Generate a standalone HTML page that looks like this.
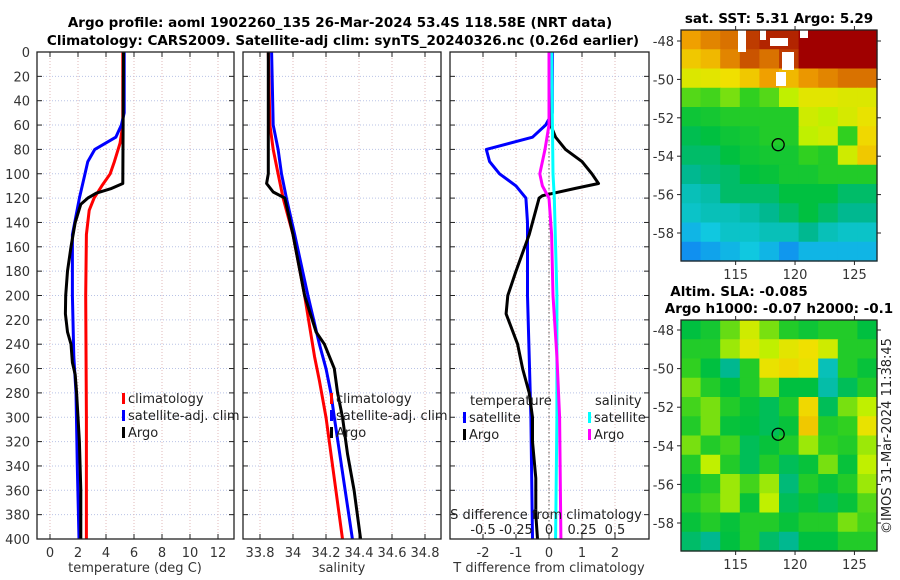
<!DOCTYPE html>
<html><head><meta charset="utf-8"><style>
html,body{margin:0;padding:0;background:#fff;}
svg{display:block;font-family:"DejaVu Sans","Liberation Sans",sans-serif;}
</style></head><body>
<svg id="fig" width="900" height="580" viewBox="0 0 900 580" xmlns="http://www.w3.org/2000/svg">
<g id="g-titles" font-weight="bold" font-size="13.5" text-anchor="middle">
 <text x="340" y="27">Argo profile: aoml 1902260_135 26-Mar-2024 53.4S 118.58E (NRT data)</text>
 <text x="343" y="45">Climatology: CARS2009. Satellite-adj clim: synTS_20240326.nc (0.26d earlier)</text>
 <text x="779" y="23">sat. SST: 5.31 Argo: 5.29</text>
 <text x="739" y="296">Altim. SLA: -0.085</text>
 <text x="779" y="313">Argo h1000: -0.07 h2000: -0.1</text>
</g>
<g id="layer"></g>
<text transform="translate(891,436) rotate(-90)" text-anchor="middle" font-size="13" fill="#222">©IMOS 31-Mar-2024 11:38:45</text>
</svg>
<script>
// ---------- data ----------
const depthTicks=[0,20,40,60,80,100,120,140,160,180,200,220,240,260,280,300,320,340,360,380,400];
const tempTicks=[0,2,4,6,8,10,12];
const salTicks=[33.8,34,34.2,34.4,34.6,34.8];
const salTickLabels=["33.8","34","34.2","34.4","34.6","34.8"];
const dTTicks=[-2,-1,0,1,2];
const dSTicks=[-0.5,-0.25,0,0.25,0.5];
const dSTickLabels=["-0.5","-0.25","0","0.25","0.5"];

const climTP=[0,60,75,90,100,110,120,130,150,200,300,400];
const climT=[5.2,5.2,5.0,4.6,4.3,3.7,3.15,2.8,2.6,2.55,2.6,2.6];
const satTP=[0,50,60,70,80,90,100,120,150,200,250,280,340,400];
const satT=[5.3,5.3,5.1,4.7,3.2,2.7,2.5,2.1,1.6,1.6,1.7,1.86,1.95,2.07];
const argoTP=[0,108,112,116,120,125,140,160,180,200,215,230,240,255,265,280,300,320,360,400];
const argoT=[5.25,5.2,4.4,3.3,2.7,2.2,1.8,1.5,1.25,1.12,1.1,1.25,1.5,1.6,1.8,1.9,2.0,2.1,2.2,2.2];

const climSP=[0,60,80,100,120,150,200,250,270,300,400];
const climS=[33.85,33.86,33.88,33.91,33.94,34.0,34.07,34.13,34.16,34.2,34.3];
const satSP=[0,60,80,100,120,150,200,240,260,280,300,400];
const satS=[33.87,33.88,33.91,33.93,33.96,34.01,34.09,34.16,34.2,34.23,34.25,34.36];
const argoSP=[0,100,108,115,120,150,200,230,240,260,280,300,330,360,400];
const argoS=[33.85,33.85,33.84,33.88,33.95,34.0,34.07,34.14,34.19,34.25,34.27,34.3,34.33,34.37,34.41];

const dTsatP=[0,50,60,70,80,90,100,110,120,140,200,300,400];
const dTsat=[0.1,0.1,-0.1,-0.5,-1.9,-1.8,-1.5,-1.0,-0.7,-0.65,-0.65,-0.55,-0.5];
const dTargoP=[0,60,70,80,90,100,108,112,118,120,130,150,180,200,215,240,260,280,300,320,350,380,400];
const dTargo=[0.05,0.05,0.2,0.5,1.0,1.3,1.5,0.8,-0.2,-0.3,-0.4,-0.6,-1.0,-1.25,-1.3,-0.95,-0.8,-0.6,-0.5,-0.5,-0.4,-0.4,-0.35];
const dSsatP=[0,100,120,200,300,400];
const dSsat=[0.02,0.03,0.04,0.06,0.06,0.05];
const dSargoP=[0,60,80,100,110,120,150,200,250,300,400];
const dSargo=[0.0,0.0,-0.03,-0.07,-0.05,0.0,0.02,0.03,0.06,0.08,0.09];

const sstGrid=[
[0.85,0.88,0.9,0.95,0.97,0.97,1,1,1,1],
[0.8,0.82,0.88,0.93,0.9,0.95,1,1,1,1],
[0.74,0.75,0.77,0.8,0.85,0.82,0.86,0.88,0.9,0.9],
[0.64,0.63,0.66,0.62,0.64,0.7,0.75,0.75,0.74,0.74],
[0.57,0.58,0.6,0.6,0.6,0.6,0.72,0.7,0.73,0.76],
[0.53,0.55,0.57,0.58,0.6,0.6,0.7,0.72,0.62,0.78],
[0.5,0.5,0.55,0.57,0.58,0.58,0.62,0.6,0.72,0.8],
[0.45,0.48,0.5,0.55,0.56,0.58,0.58,0.6,0.6,0.6],
[0.4,0.42,0.5,0.5,0.5,0.55,0.55,0.55,0.5,0.5],
[0.38,0.4,0.4,0.42,0.45,0.5,0.55,0.5,0.45,0.45],
[0.3,0.35,0.38,0.38,0.4,0.4,0.45,0.4,0.38,0.38],
[0.2,0.25,0.3,0.35,0.3,0.22,0.3,0.3,0.3,0.3]];
const slaGrid=[
[0.55,0.58,0.65,0.72,0.66,0.6,0.57,0.6,0.6,0.55],
[0.6,0.6,0.68,0.75,0.7,0.75,0.77,0.72,0.6,0.6],
[0.62,0.55,0.45,0.6,0.76,0.78,0.76,0.4,0.6,0.56],
[0.66,0.6,0.55,0.6,0.66,0.55,0.55,0.42,0.52,0.6],
[0.63,0.66,0.6,0.56,0.52,0.6,0.78,0.52,0.66,0.7],
[0.6,0.66,0.56,0.55,0.52,0.56,0.8,0.6,0.62,0.76],
[0.66,0.6,0.63,0.52,0.56,0.6,0.68,0.62,0.6,0.68],
[0.6,0.7,0.6,0.52,0.6,0.52,0.56,0.66,0.56,0.7],
[0.56,0.6,0.68,0.63,0.68,0.48,0.6,0.56,0.6,0.68],
[0.6,0.63,0.68,0.56,0.7,0.52,0.56,0.52,0.56,0.64],
[0.56,0.6,0.56,0.6,0.6,0.56,0.6,0.6,0.66,0.63],
[0.5,0.45,0.55,0.6,0.5,0.45,0.55,0.55,0.6,0.6]];
const latTicks=[-48,-50,-52,-54,-56,-58];
const lonTicks=[115,120,125];
const argoLon=118.58, argoLat=-53.4;

// ---------- helpers ----------
const NS="http://www.w3.org/2000/svg";
const layer=document.getElementById('layer');
function mk(tag,attrs,parent){const e=document.createElementNS(NS,tag);for(const k in attrs)e.setAttribute(k,attrs[k]);(parent||layer).appendChild(e);return e;}
const yD=p=>52+1.2175*p;
const xT=t=>50+14*t;
const xS=s=>260+165*(s-33.8);
const xDT=d=>549+33*d;
const xDS=d=>549+132*d;

function panel(x0,x1,name,xt,xf,xl){
  const g=mk('g',{});
  
  
  depthTicks.forEach(p=>{
    const l=mk('line',{x1:x0,x2:x1,y1:yD(p),y2:yD(p),stroke:'#b9c3e6','stroke-width':1,'stroke-dasharray':'1,2'},g);
    
    
    mk('line',{x1:x0,x2:x0+5,y1:yD(p),y2:yD(p),stroke:'#222'},g);
    mk('line',{x1:x1-5,x2:x1,y1:yD(p),y2:yD(p),stroke:'#222'},g);
  });
  xt.forEach((v,i)=>{
    const x=xf(v);
    const l=mk('line',{x1:x,x2:x,y1:52,y2:539,stroke:'#e0b8b8','stroke-width':1,'stroke-dasharray':'1,2'},g);
    
    
    mk('line',{x1:x,x2:x,y1:539,y2:534,stroke:'#222'},g);
    mk('line',{x1:x,x2:x,y1:52,y2:57,stroke:'#222'},g);
    const t=mk('text',{x:x,y:557,'text-anchor':'middle','font-size':13,fill:'#333'},g);
    t.textContent=xl?xl[i]:String(v);
    
    
  });
  return g;
}
function line(xs,ps,xf,color,name,w){
  const pts=xs.map((v,i)=>xf(v).toFixed(1)+','+yD(ps[i]).toFixed(1)).join(' ');
  const e=mk('polyline',{points:pts,fill:'none',stroke:color,'stroke-width':w||3,'stroke-linejoin':'round'});
  
  
}
function frame(x0,x1,y0,y1,name){
  const e=mk('rect',{x:x0,y:y0,width:x1-x0,height:y1-y0,fill:'none',stroke:'#222','stroke-width':1.3});
  
  
}
function txt(x,y,s,name,opt){
  const e=mk('text',Object.assign({x:x,y:y,'font-size':13,fill:'#222'},opt||{}));
  e.textContent=s;
  
  
  return e;
}
function legItem(x,y,color,label,name){
  const r=mk('rect',{x:x,y:y-9,width:3,height:11,fill:color});
  
  
  txt(x+6,y+1,label,name);
}

// ---------- panel 1 temperature ----------
panel(37,234,'temperature-panel',tempTicks,xT);
depthTicks.forEach(p=>{txt(30,yD(p)+5,String(p),'y-tick-label',{'text-anchor':'end',fill:'#333'});});
line(climT,climTP,xT,'#ff0000','temp-climatology-line');
line(satT,satTP,xT,'#0000ff','temp-satellite-line');
line(argoT,argoTP,xT,'#000000','temp-argo-line');
frame(37,234,52,539,'temperature-axes-frame');
txt(135,572,'temperature (deg C)','temperature-axis-title',{'text-anchor':'middle',fill:'#333'});
legItem(122,402,'#ff0000','climatology','temp-legend-climatology');
legItem(122,419,'#0000ff','satellite-adj. clim','temp-legend-satellite');
legItem(122,436,'#000000','Argo','temp-legend-argo');

// ---------- panel 2 salinity ----------
panel(243,441,'salinity-panel',salTicks,xS,salTickLabels);
line(climS,climSP,xS,'#ff0000','sal-climatology-line');
line(satS,satSP,xS,'#0000ff','sal-satellite-line');
line(argoS,argoSP,xS,'#000000','sal-argo-line');
frame(243,441,52,539,'salinity-axes-frame');
txt(342,572,'salinity','salinity-axis-title',{'text-anchor':'middle',fill:'#333'});
legItem(330,402,'#ff0000','climatology','sal-legend-climatology');
legItem(330,419,'#0000ff','satellite-adj. clim','sal-legend-satellite');
legItem(330,436,'#000000','Argo','sal-legend-argo');

// ---------- panel 3 differences ----------
panel(450,649,'difference-panel',dTTicks,xDT);
const z=mk('line',{x1:549,x2:549,y1:52,y2:539,stroke:'#555','stroke-dasharray':'1.5,2.5'});


line(dTsat,dTsatP,xDT,'#0000ff','dT-satellite-line');
line(dTargo,dTargoP,xDT,'#000000','dT-argo-line');
line(dSsat,dSsatP,xDS,'#00ffff','dS-satellite-line');
line(dSargo,dSargoP,xDS,'#ff00ff','dS-argo-line');
frame(450,649,52,539,'difference-axes-frame');
txt(549,572,'T difference from climatology','dT-axis-title',{'text-anchor':'middle',fill:'#333'});
txt(546,519,'S difference from climatology','dS-axis-title',{'text-anchor':'middle'});
dSTicks.forEach((v,i)=>{txt(xDS(v),534,dSTickLabels[i],'dS-tick-label',{'text-anchor':'middle'});});
txt(470,405,'temperature','diff-legend-temp-header');
legItem(463,421,'#0000ff','satellite','diff-legend-temp-satellite');
legItem(463,438,'#000000','Argo','diff-legend-temp-argo');
txt(595,405,'salinity','diff-legend-sal-header');
legItem(588,421,'#00ffff','satellite','diff-legend-sal-satellite');
legItem(588,438,'#ff00ff','Argo','diff-legend-sal-argo');

// ---------- maps ----------
const stops=[[0,[16,64,208]],[0.2,[16,144,240]],[0.35,[16,200,224]],[0.45,[0,184,144]],[0.55,[0,192,64]],[0.62,[48,208,32]],[0.7,[192,240,0]],[0.77,[240,224,0]],[0.85,[240,160,0]],[0.92,[208,96,0]],[1,[160,0,0]]];
function cmap(v){for(let i=1;i<stops.length;i++){if(v<=stops[i][0]){const a=stops[i-1],b=stops[i],f=(v-a[0])/(b[0]-a[0]);return 'rgb('+a[1].map((c,k)=>Math.round(c+f*(b[1][k]-c))).join(',')+')';}}return 'rgb(160,0,0)';}
const mx0=681,mx1=877;
const lonX=lon=>mx0+(lon-110.4)*(mx1-mx0)/(126.9-110.4);
function map(grid,y0,y1,name){
  const g=mk('g',{});
  
  
  const rows=grid.length,cols=grid[0].length,cw=(mx1-mx0)/cols,ch=(y1-y0)/rows;
  grid.forEach((row,r)=>row.forEach((v,c)=>{
    const e=mk('rect',{x:(mx0+c*cw).toFixed(2),y:(y0+r*ch).toFixed(2),width:(cw+0.6).toFixed(2),height:(ch+0.6).toFixed(2),fill:cmap(v)},g);
    
    
  }));
  return g;
}
function mapAxes(y0,y1,latY,name,showLon){
  latTicks.forEach(l=>{
    const y=latY(l);
    mk('line',{x1:mx0-4,x2:mx0,y1:y,y2:y,stroke:'#222'});
    mk('line',{x1:mx1,x2:mx1+4,y1:y,y2:y,stroke:'#222'});
    txt(mx0-7,y+5,String(l),name+'-lat-label',{'text-anchor':'end',fill:'#333'});
  });
  lonTicks.forEach(l=>{
    const x=lonX(l);
    mk('line',{x1:x,x2:x,y1:y1,y2:y1+4,stroke:'#222'});
    mk('line',{x1:x,x2:x,y1:y0-4,y2:y0,stroke:'#222'});
    if(showLon)txt(x,y1+18,String(l),name+'-lon-label',{'text-anchor':'middle',fill:'#333'});
  });
  frame(mx0,mx1,y0,y1,name+'-frame');
  const c=mk('circle',{cx:lonX(argoLon),cy:latY(argoLat),r:6,fill:'none',stroke:'#000','stroke-width':1.3});
  
  
}
const lat1=l=>41+(-48-l)*19.2;
map(sstGrid,30,261,'sst-map');
[[738,30,8,22],[760,30,6,10],[770,38,18,8],[782,52,12,18],[800,30,8,8],[776,72,10,14]].forEach(q=>{const e=mk('rect',{x:q[0],y:q[1],width:q[2],height:q[3],fill:'#fff'});});
mapAxes(30,261,lat1,'sst-map',true);
const lat2=l=>330+(-48-l)*19.3;
map(slaGrid,320,551,'sla-map');
mapAxes(320,551,lat2,'sla-map',true);
</script>
</body></html>
